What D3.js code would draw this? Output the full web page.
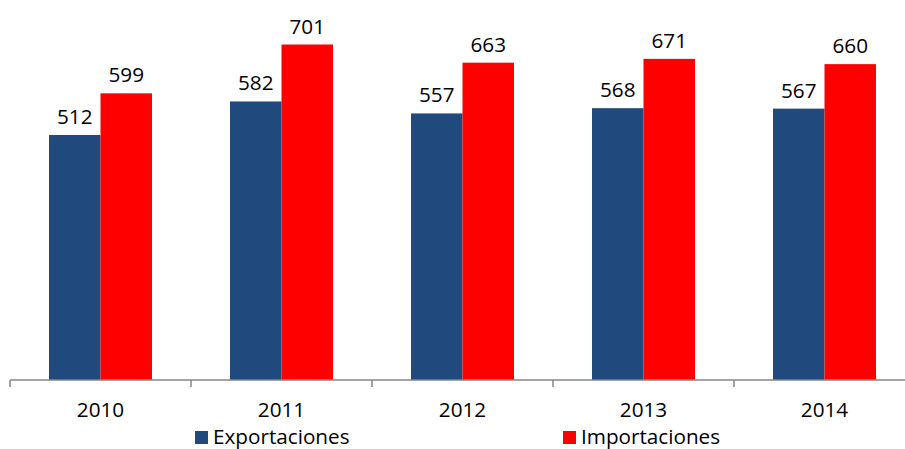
<!DOCTYPE html>
<html lang="es">
  <head>
    <meta charset="utf-8" />
    <title>Exportaciones e Importaciones</title>
    <script src="https://d3js.org/d3.v7.min.js"></script>
    <style type="text/css">
      body { margin: 0; background: #fff; }
      text { font-family: 'Open Sans', sans-serif; fill: #000; }
    </style>
  </head>
  <body>
    <script type="text/javascript">
      const years = ['2010', '2011', '2012', '2013', '2014'];
      const seriesNames = ['Exportaciones', 'Importaciones'];
      const exportaciones = [512, 582, 557, 568, 567];
      const importaciones = [599, 701, 663, 671, 660];
      const colors = ['#204a7d', '#ff0000'];

      const w = 905;
      const h = 449;
      const baseY = 380;
      const left = 10;
      const bandW = 181;
      const fs = '20.7px';

      const svg = d3
        .select('body')
        .append('svg')
        .attr('width', w)
        .attr('height', h);

      const xScale = d3
        .scaleBand()
        .domain(years)
        .range([left, left + bandW * years.length])
        .paddingInner(0)
        .paddingOuter(0);

      const inner = d3
        .scaleBand()
        .domain(seriesNames)
        .range([39, bandW - 39]);

      const yScale = d3.scaleLinear().domain([0, 794]).range([baseY, 0]);

      const rows = years.map((y, i) => ({
        year: y,
        values: [exportaciones[i], importaciones[i]]
      }));

      const groups = svg
        .selectAll('g.year')
        .data(rows)
        .enter()
        .append('g')
        .attr('class', 'year')
        .attr('transform', d => `translate(${xScale(d.year)},0)`);

      groups
        .selectAll('rect')
        .data(d => d.values)
        .enter()
        .append('rect')
        .attr('x', (d, i) => inner(seriesNames[i]))
        .attr('y', d => yScale(d))
        .attr('width', inner.bandwidth())
        .attr('height', d => baseY - yScale(d))
        .attr('fill', (d, i) => colors[i]);

      groups
        .selectAll('text.val')
        .data(d => d.values)
        .enter()
        .append('text')
        .attr('class', 'val')
        .attr('x', (d, i) => inner(seriesNames[i]) + inner.bandwidth() / 2)
        .attr('y', d => yScale(d) - 11)
        .attr('text-anchor', 'middle')
        .style('font-size', fs)
        .text(d => d);

      // x axis with ticks between categories
      const axis = svg.append('g').attr('transform', `translate(0,${baseY})`);
      axis
        .append('line')
        .attr('x1', left)
        .attr('x2', left + bandW * years.length)
        .attr('stroke', '#868686')
        .attr('stroke-width', 1.5);
      axis
        .selectAll('line.tick')
        .data(d3.range(years.length + 1))
        .enter()
        .append('line')
        .attr('class', 'tick')
        .attr('x1', i => left + i * bandW)
        .attr('x2', i => left + i * bandW)
        .attr('y1', 0)
        .attr('y2', 7)
        .attr('stroke', '#868686')
        .attr('stroke-width', 1.5);
      axis
        .selectAll('text')
        .data(years)
        .enter()
        .append('text')
        .attr('x', d => xScale(d) + bandW / 2)
        .attr('y', 37)
        .attr('text-anchor', 'middle')
        .style('font-size', fs)
        .text(d => d);

      // legend
      const legendX = [195, 563];
      const legend = svg
        .selectAll('g.legend')
        .data(seriesNames)
        .enter()
        .append('g')
        .attr('class', 'legend')
        .attr('transform', (d, i) => `translate(${legendX[i]},431)`);
      legend
        .append('rect')
        .attr('width', 13)
        .attr('height', 13)
        .attr('fill', (d, i) => colors[i]);
      legend
        .append('text')
        .attr('x', 18)
        .attr('y', 13)
        .style('font-size', fs)
        .text(d => d);
    </script>
  </body>
</html>
